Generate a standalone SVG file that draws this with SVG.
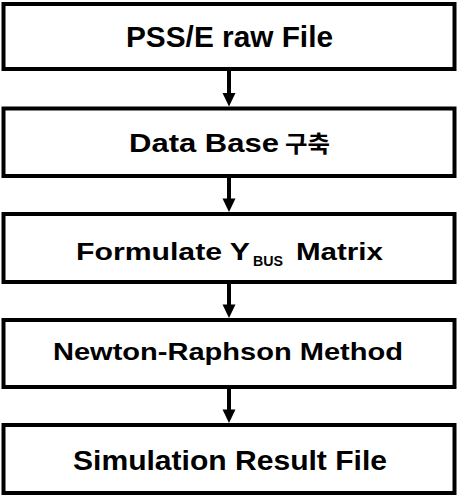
<svg xmlns="http://www.w3.org/2000/svg" width="458" height="496" viewBox="0 0 458 496">
  <style>
    .box { fill: #ffffff; stroke: #000000; stroke-width: 4; }
    .lbl { font-family: "Liberation Sans", Arial, "Noto Sans CJK KR", sans-serif; font-weight: bold; fill: #000000; }
    .kr { font-family: "Noto Sans CJK KR", sans-serif; font-weight: bold; }
    .conn { stroke: #000000; stroke-width: 4; fill: none; }
    .head { fill: #000000; stroke: none; }
  </style>
  <defs>
    <path id="ah" d="M-6.5,0 L6.5,0 L0,13.5 Z"/>
  </defs>
  <rect width="458" height="496" fill="#ffffff"/>
  <g id="connectors">
    <line class="conn" x1="229" y1="70" x2="229" y2="95"/>
    <use href="#ah" class="head" x="229" y="93"/>
    <line class="conn" x1="229" y1="177" x2="229" y2="200"/>
    <use href="#ah" class="head" x="229" y="198.5"/>
    <line class="conn" x1="229" y1="283" x2="229" y2="306"/>
    <use href="#ah" class="head" x="229" y="304.5"/>
    <line class="conn" x1="229" y1="388" x2="229" y2="411"/>
    <use href="#ah" class="head" x="229" y="409.5"/>
  </g>
  <g id="node1">
    <rect class="box" x="3.5" y="4" width="451" height="65"/>
    <text class="lbl" x="126" y="47" font-size="29" textLength="207" lengthAdjust="spacingAndGlyphs">PSS/E raw File</text>
  </g>
  <g id="node2">
    <rect class="box" x="3.5" y="108.5" width="451" height="67.5"/>
    <text class="lbl" x="129" y="151.5" font-size="25.5" textLength="150" lengthAdjust="spacingAndGlyphs">Data Base</text>
    <text class="lbl kr" x="285" y="151.5" font-size="23" textLength="45" lengthAdjust="spacingAndGlyphs">구축</text>
  </g>
  <g id="node3">
    <rect class="box" x="3.5" y="214" width="451" height="68"/>
    <text class="lbl" x="76" y="260" font-size="24" textLength="174" lengthAdjust="spacingAndGlyphs">Formulate Y</text>
    <text class="lbl" x="253" y="265.5" font-size="14.5" textLength="30" lengthAdjust="spacingAndGlyphs">BUS</text>
    <text class="lbl" x="296" y="260" font-size="24" textLength="87" lengthAdjust="spacingAndGlyphs">Matrix</text>
  </g>
  <g id="node4">
    <rect class="box" x="3.5" y="320" width="451" height="67"/>
    <text class="lbl" x="53" y="360" font-size="24" textLength="350" lengthAdjust="spacingAndGlyphs">Newton-Raphson Method</text>
  </g>
  <g id="node5">
    <rect class="box" x="3.5" y="425" width="451" height="68"/>
    <text class="lbl" x="73" y="470" font-size="28.5" textLength="314" lengthAdjust="spacingAndGlyphs">Simulation Result File</text>
  </g>
</svg>
